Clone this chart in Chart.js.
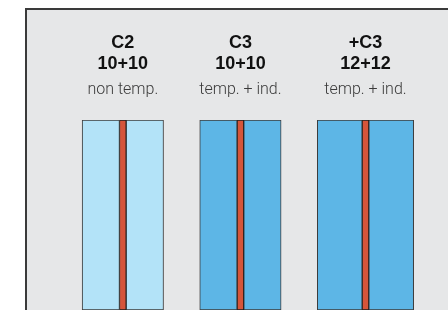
<!DOCTYPE html>
<html>
<head>
<meta charset="utf-8">
<script src="https://cdn.jsdelivr.net/npm/chart.js@4"></script>
<style>
  html, body { margin: 0; padding: 0; background: #fff; }
  #wrap { position: relative; width: 448px; height: 310px; overflow: hidden; }
  #frame {
    position: absolute; left: 25px; top: 8px; right: 0; bottom: 0;
    background: #e6e7e8;
    border-left: 2px solid #3a3a3a; border-top: 2px solid #3a3a3a;
  }
  #chart { position: absolute; left: 0; top: 0; }
</style>
</head>
<body>
<div id="wrap">
  <div id="frame"></div>
  <canvas id="chart" width="448" height="310"></canvas>
</div>
<script>
// glass types
const codes = ["C2", "C3", "+C3"];
const builds = ["10+10", "10+10", "12+12"];
const kinds = ["non temp.", "temp. + ind.", "temp. + ind."];
// thickness in mm
const outerPane = [10, 10, 12];
const interlayer = [1.8, 1.8, 1.8];
const innerPane = [10, 10, 12];

const glassColors = ["#b3e3f8", "#5db6e6", "#5db6e6"];
const startAt = 22;   // mm from left edge
const gapBetween = 9.7;

// build floating bars, one dataset per layer
const datasets = [];
const centers = [];
let x = startAt;
for (let i = 0; i < codes.length; i++) {
    const a = x, b = a + outerPane[i], c = b + interlayer[i], d = c + innerPane[i];
    datasets.push({ data: [[a, b]], backgroundColor: glassColors[i], borderColor: "#3c3c3c" });
    datasets.push({ data: [[b, c]], backgroundColor: "#d5553a", borderColor: "#1e1e1e" });
    datasets.push({ data: [[c, d]], backgroundColor: glassColors[i], borderColor: "#3c3c3c" });
    centers.push((a + d) / 2);
    x = d + gapBetween;
}

const labelPlugin = {
    id: "paneLabels",
    afterDatasetsDraw(chart) {
        const ctx = chart.ctx;
        const xs = chart.scales.x;
        ctx.save();
        ctx.textAlign = "center";
        ctx.textBaseline = "alphabetic";
        centers.forEach((c, i) => {
            const px = xs.getPixelForValue(c);
            ctx.fillStyle = "#111";
            ctx.font = "bold 18px 'Liberation Sans', Arial, sans-serif";
            ctx.fillText(codes[i], px, 48);
            ctx.fillText(builds[i], px, 69);
            ctx.fillStyle = "#3a3a3a";
            ctx.font = "300 16px Roboto, 'Liberation Sans', sans-serif";
            ctx.fillText(kinds[i], px, 94);
        });
        ctx.restore();
    }
};

new Chart(document.getElementById("chart"), {
    type: "bar",
    data: {
        labels: ["pane"],
        datasets: datasets
    },
    options: {
        indexAxis: "y",
        responsive: false,
        animation: false,
        grouped: false,
        categoryPercentage: 1,
        barPercentage: 1,
        borderWidth: 1,
        borderSkipped: false,
        layout: {
            padding: { top: 120, bottom: 0, left: 0, right: 0 }
        },
        plugins: {
            legend: { display: false },
            tooltip: { enabled: false }
        },
        scales: {
            x: { type: "linear", min: 0, max: 120, display: false },
            y: { display: false }
        }
    },
    plugins: [labelPlugin]
});
</script>
</body>
</html>
